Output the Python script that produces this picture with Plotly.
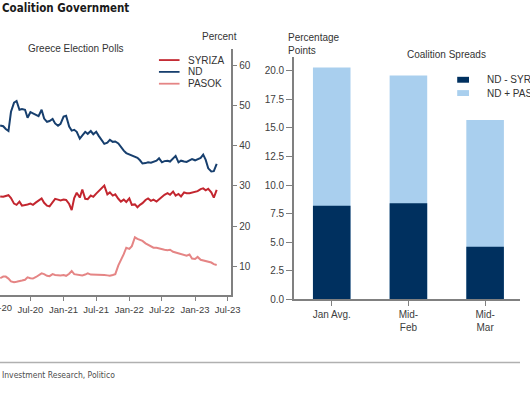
import pandas as pd
import plotly.graph_objects as go

# ---------------- data ----------------
poll_dates = pd.date_range("2020-01-15", "2023-05-01", freq="SMS")  # 1st & 15th of month

nd = [45.1, 44.9, 44.2, 43.7, 48.5, 50.8, 51.2, 49.0, 49.2, 49.0,
      47.0, 48.4, 48.1, 47.8, 47.4, 49.0, 46.8, 46.0, 46.2, 46.7,
      45.6, 45.0, 45.5, 47.3, 47.5, 44.8, 43.8, 44.0, 43.5, 41.8,
      42.5, 43.5, 43.0, 43.7, 42.9, 43.5, 42.5, 41.3, 40.5, 40.8,
      41.5, 41.0, 41.1, 40.6, 39.6, 38.8, 38.2, 37.9, 37.5, 37.2,
      37.0, 36.4, 35.6, 35.7, 35.9, 35.8, 36.0, 36.3, 36.9, 35.9,
      36.2, 36.3, 36.1, 36.8, 37.5, 35.9, 36.3, 36.1, 36.0, 36.4,
      36.7, 36.4, 36.6, 37.0, 37.8, 36.5, 34.4, 33.6, 33.7, 35.5]

syriza = [27.4, 27.3, 27.5, 27.7, 27.0, 25.6, 25.3, 26.1, 25.1, 25.2,
          25.4, 25.6, 25.3, 25.9, 26.4, 26.9, 25.8, 25.1, 24.9, 25.9,
          26.8, 26.6, 26.4, 26.6, 26.5, 25.5, 24.0, 27.0, 28.3, 27.1,
          29.1, 26.8, 26.7, 27.6, 27.3, 28.1, 28.8, 29.5, 30.1, 27.9,
          28.4, 27.6, 27.9, 26.8, 26.1, 26.6, 26.0, 26.9, 25.3, 25.4,
          24.7, 25.3, 25.7, 26.5, 26.9, 26.3, 26.6, 26.1, 26.7, 27.3,
          27.8, 28.2, 27.8, 28.6, 27.6, 28.0, 27.4, 28.4, 28.2, 28.2,
          28.3, 28.5, 28.7, 29.2, 29.4, 28.9, 29.3, 28.4, 27.1, 29.0]

pasok = [7.0, 7.4, 7.4, 6.9, 6.2, 6.0, 6.1, 6.2, 6.4, 6.6,
         7.2, 7.0, 6.9, 7.3, 7.7, 8.2, 8.0, 7.6, 7.5, 8.0,
         7.8, 7.7, 7.7, 7.8, 7.6, 8.1, 8.8, 8.0, 7.9, 7.8,
         7.7, 7.9, 8.2, 7.9, 7.9, 7.9, 7.9, 7.8, 7.8, 7.7,
         7.6, 7.8, 8.0, 10.2, 11.4, 13.0, 14.6, 14.3, 15.0, 17.2,
         16.8, 16.5, 16.3, 15.7, 15.3, 14.8, 14.6, 14.6, 14.4, 14.3,
         14.1, 14.0, 14.1, 13.6, 13.4, 13.1, 12.9, 12.8, 12.6, 12.9,
         11.9, 11.8, 12.3, 11.6, 11.4, 11.2, 11.1, 10.9, 10.5, 10.3]

series_names = ["SYRIZA", "ND", "PASOK"]
series_colors = ["#c3262f", "#173f6e", "#e58585"]

spread_cats = ["Jan Avg.", "Mid-<br>Feb", "Mid-<br>Mar"]
spread_nd_syriza = [8.2, 8.4, 4.6]
spread_nd_pasok_syriza = [20.3, 19.6, 15.7]
spread_names = ["ND - SYRIZA", "ND + PASOK - SYRIZA"]
spread_colors = ["#00305f", "#a9cfee"]

left_yticks = [10, 20, 30, 40, 50, 60]
right_yticks = [0, 2.5, 5, 7.5, 10, 12.5, 15, 17.5, 20]

# ---------------- figure ----------------
W, H = 530, 393
def px(x):
    return x / W
def py(y):
    return 1 - y / H

FONT = "Liberation Sans, Arial, sans-serif"
COND = "DejaVu Sans Condensed, Liberation Sans Narrow, Arial Narrow, sans-serif"
AX = "#808080"
TXT = "#404040"

fig = go.Figure()
for name, color, vals in zip(series_names, series_colors, [syriza, nd, pasok]):
    fig.add_trace(go.Scatter(x=poll_dates, y=vals, mode="lines", name=name,
                             line=dict(color=color, width=2), showlegend=False,
                             xaxis="x", yaxis="y"))

fig.add_trace(go.Bar(x=spread_cats, y=spread_nd_pasok_syriza, name=spread_names[1],
                     marker=dict(color=spread_colors[1], line=dict(width=0)),
                     width=0.49, showlegend=False, xaxis="x2", yaxis="y2"))
fig.add_trace(go.Bar(x=spread_cats, y=spread_nd_syriza, name=spread_names[0],
                     marker=dict(color=spread_colors[0], line=dict(width=0)),
                     width=0.49, showlegend=False, xaxis="x2", yaxis="y2"))

fig.update_layout(
    width=W, height=H, autosize=False,
    margin=dict(l=0, r=0, t=0, b=0),
    paper_bgcolor="white", plot_bgcolor="white",
    barmode="overlay",
    font=dict(family=FONT, size=10, color=TXT),
    xaxis=dict(domain=[0, px(235)], type="date",
               range=["2020-01-14", "2023-07-17"],
               tick0="2020-01-01", dtick="M6", tickformat="%b-%y",
               showgrid=False, zeroline=False,
               showline=True, linecolor=AX, linewidth=1.5,
               ticks="outside", ticklen=4, tickcolor=AX, tickwidth=1.2,
               tickfont=dict(size=9.5, color=TXT)),
    yaxis=dict(domain=[py(300), py(50)], side="right", anchor="x",
               range=[2.7, 64.1], tickvals=left_yticks,
               showgrid=False, zeroline=False,
               showline=True, linecolor=AX, linewidth=1.5,
               ticks="outside", ticklen=5, tickcolor=AX, tickwidth=1.2,
               tickfont=dict(size=10, color=TXT)),
    xaxis2=dict(domain=[px(299.5), 1], type="category", anchor="y2",
                range=[-0.494, 2.455],
                showgrid=False, zeroline=False,
                showline=True, linecolor=AX, linewidth=1.5,
                ticks="outside", ticklen=5, tickcolor=AX, tickwidth=1.2,
                tickfont=dict(size=10, color=TXT)),
    yaxis2=dict(domain=[py(304), py(58)], anchor="x2",
                range=[0, 21.2], tickvals=right_yticks, tickformat=".1f",
                showgrid=False, zeroline=False,
                showline=True, linecolor=AX, linewidth=1.5,
                ticks="outside", ticklen=6, tickcolor=AX, tickwidth=1.2,
                tickfont=dict(size=10, color=TXT)),
)

ann = []
shapes = []
# Title
ann.append(dict(text="<b>Coalition Government</b>", x=px(0), y=py(8.5), xref="paper", yref="paper",
                xanchor="left", yanchor="middle", showarrow=False,
                font=dict(family=COND, size=11.5, color="#1a1a1a")))
# panel titles
ann.append(dict(text="Greece Election Polls", x=px(77), y=py(49), xref="paper", yref="paper",
                xanchor="center", yanchor="middle", showarrow=False,
                font=dict(size=10, color="#333333")))
ann.append(dict(text="Percent", x=px(224), y=py(37), xref="paper", yref="paper",
                xanchor="center", yanchor="middle", showarrow=False,
                font=dict(size=10, color="#333333")))
ann.append(dict(text="Percentage<br>Points", x=px(292), y=py(45), xref="paper", yref="paper",
                xanchor="left", yanchor="middle", align="left", showarrow=False,
                font=dict(size=10, color="#333333")))
ann.append(dict(text="Coalition Spreads", x=px(455), y=py(55), xref="paper", yref="paper",
                xanchor="center", yanchor="middle", showarrow=False,
                font=dict(size=10, color="#333333")))
# partially visible first date label (left edge of the crop)
ann.append(dict(text="Jan-20", x=px(-2.5), xref="paper", y=py(312), yref="paper",
                xanchor="center", yanchor="middle", showarrow=False,
                font=dict(size=9.5, color=TXT)))
# left legend
for i, (name, color) in enumerate(zip(series_names, series_colors)):
    yy = 61 + 12 * i
    shapes.append(dict(type="line", xref="paper", yref="paper",
                       x0=px(162), x1=px(183), y0=py(yy), y1=py(yy),
                       line=dict(color=color, width=1.8)))
    ann.append(dict(text=name, x=px(190), y=py(yy), xref="paper", yref="paper",
                    xanchor="left", yanchor="middle", showarrow=False,
                    font=dict(size=10, color="#333333")))
# right legend
for i, (name, color) in enumerate(zip(spread_names, spread_colors)):
    yc = 81 + 13.5 * i
    shapes.append(dict(type="rect", xref="paper", yref="paper",
                       x0=px(466), x1=px(478), y0=py(yc - 3), y1=py(yc + 3),
                       fillcolor=color, line=dict(width=0)))
    ann.append(dict(text=name, x=px(494), y=py(yc), xref="paper", yref="paper",
                    xanchor="left", yanchor="middle", showarrow=False,
                    font=dict(size=10, color="#333333")))
# footer rule and source
shapes.append(dict(type="line", xref="paper", yref="paper", x0=0, x1=1,
                   y0=py(368), y1=py(368), line=dict(color="#b0b0b0", width=1.5)))
ann.append(dict(text="Investment Research, Politico",
                x=px(0), y=py(381), xref="paper", yref="paper",
                xanchor="left", yanchor="middle", showarrow=False,
                font=dict(family=COND, size=8.5, color="#4d4d4d")))

fig.update_layout(annotations=ann, shapes=shapes)
css = "margin:0;padding:0;overflow:hidden;width:530px;height:393px;"
fig.write_html("out.html", config={"displayModeBar": False, "responsive": False},
               post_script=("document.documentElement.style.cssText='%s';"
                            "document.body.style.cssText='%s';" % (css, css)))
